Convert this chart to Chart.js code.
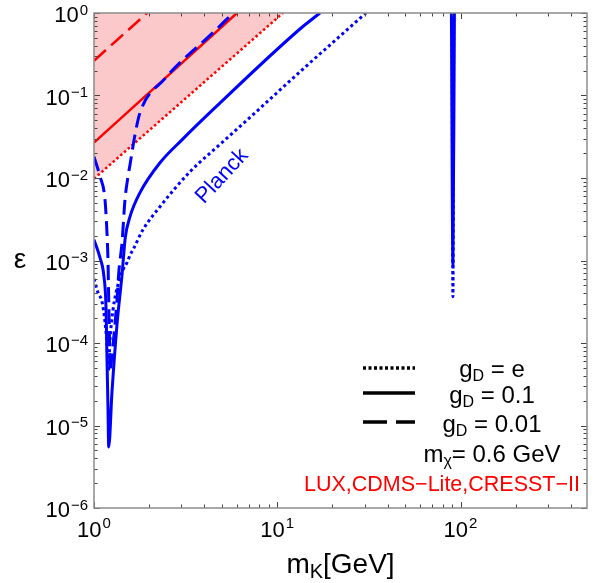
<!DOCTYPE html>
<html>
<head>
<meta charset="utf-8">
<script src="https://cdn.jsdelivr.net/npm/chart.js@4.4.0/dist/chart.umd.min.js"></script>
<style>
  html, body { margin: 0; padding: 0; background: #fff; }
  #wrap { width: 596px; height: 583px; position: relative; }
</style>
</head>
<body>
<div id="wrap"><canvas id="c"></canvas></div>
<script>
// [m_K (GeV), epsilon]
const redDotted = [[1, 0.0098], [10.74, 1]];
const redSolid = [[1, 0.0268], [6.03, 1]];
const redDashed = [[1, 0.264], [1.95, 1]];

const blueSolid = [
  [1.0, 1.79e-3], [1.078, 1.08e-3], [1.13, 6.7e-4], [1.163, 2.68e-4], [1.177, 6.6e-5],
  [1.192, 1.64e-5], [1.203, 5.5e-6], [1.254, 2.57e-5], [1.335, 1.67e-4], [1.422, 6.7e-4],
  [1.481, 1.89e-3], [1.572, 3.4e-3], [1.782, 6.64e-3], [2.291, 0.0153], [3.02, 0.029],
  [4.459, 0.0673], [13.3, 0.64], [17.1, 1.0]
];
const blueDotted = [
  [1.0, 6.0e-4], [1.052, 4.07e-4], [1.106, 3.17e-4], [1.148, 1.81e-4], [1.177, 9.5e-5],
  [1.197, 4.5e-5], [1.223, 1.1e-4], [1.27, 2.53e-4], [1.352, 5.1e-4], [1.439, 7.7e-4],
  [1.514, 9.4e-4], [1.578, 1.18e-3], [1.632, 1.35e-3], [1.85, 2.36e-3], [2.291, 4.49e-3],
  [3.34, 0.0119], [5.056, 0.0275], [7.37, 0.0585], [13.3, 0.194], [30.5, 1.0]
];
const blueDashed = [
  [1.0, 0.0181], [1.078, 0.0105], [1.148, 0.00546], [1.177, 0.00217], [1.192, 0.00102],
  [1.203, 3.35e-4], [1.215, 1.1e-4], [1.223, 4.5e-5], [1.254, 7.2e-5], [1.286, 1.26e-4],
  [1.335, 3.35e-4], [1.369, 7.7e-4], [1.422, 1.64e-3], [1.476, 5.46e-3], [1.533, 0.0104],
  [1.572, 0.0145], [1.674, 0.0335], [1.782, 0.0619], [2.439, 0.16], [2.946, 0.25],
  [4.459, 0.577], [5.733, 1.0]
];
// Z resonance spike near 91 GeV
const spikeSolid = [[89.2, 1], [90.9, 8.9e-4], [92.6, 1]];
const spikeDotted = [[90.0, 1], [90.9, 3.64e-4], [91.8, 1]];

const xMin = 1, xMax = 490, yMin = 1e-6, yMax = 1;
const xTickValues = [1, 10, 100];
const xTickExps = ['0', '1', '2'];
const yTickValues = [1, 1e-1, 1e-2, 1e-3, 1e-4, 1e-5, 1e-6];
const yTickExps = ['0', '\u22121', '\u22122', '\u22123', '\u22124', '\u22125', '\u22126'];

const legendValues = ['e', '0.1', '0.01'];
const legendDashes = [[3, 2.5], [], [24, 9]];
const massNote = '= 0.6 GeV';
const limitsNote = 'LUX,CDMS\u2212Lite,CRESST\u2212II';
const planckLabel = { text: 'Planck', m: 5.0, eps: 0.0105 };

const FONT = '"Liberation Sans", Arial, sans-serif';
const BLUE = '#0000ff', RED = '#ff0000';

const pts = arr => arr.map(([x, y]) => ({ x, y }));

function line(data, color, width, dash, extra) {
  return Object.assign({
    data: pts(data),
    borderColor: color,
    borderWidth: width,
    borderDash: dash,
    pointRadius: 0,
    fill: false,
    cubicInterpolationMode: 'monotone',
    clip: 0
  }, extra || {});
}

function powLabel(ctx, exp, x, base, supBase, align) {
  ctx.font = '22px ' + FONT;
  const w1 = ctx.measureText('10').width;
  ctx.font = '15px ' + FONT;
  const w2 = ctx.measureText(exp).width;
  const total = w1 + 1 + w2;
  const left = align === 'right' ? x - total : x - total / 2;
  ctx.textAlign = 'left';
  ctx.font = '22px ' + FONT;
  ctx.fillText('10', left, base);
  ctx.font = '15px ' + FONT;
  ctx.fillText(exp, left + w1 + 1, supBase);
}

// text with subscript, pieces: [text, size, dy]
function richText(ctx, pieces, x, base, align) {
  let total = 0;
  for (const p of pieces) { ctx.font = p[1] + 'px ' + FONT; total += ctx.measureText(p[0]).width; }
  let cx = align === 'center' ? x - total / 2 : align === 'right' ? x - total : x;
  ctx.textAlign = 'left';
  for (const p of pieces) {
    ctx.font = p[1] + 'px ' + FONT;
    ctx.fillText(p[0], cx, base + (p[2] || 0));
    cx += ctx.measureText(p[0]).width;
  }
}

const framePlugin = {
  id: 'frame',
  afterDraw(chart) {
    const { ctx, chartArea: a } = chart;
    const xs = chart.scales.x, ys = chart.scales.y;
    ctx.save();

    // ticks on all four sides
    ctx.strokeStyle = '#444';
    ctx.lineWidth = 1;
    ctx.beginPath();
    for (let d = 1; d <= 100; d *= 10) {
      for (let k = 1; k <= 9; k++) {
        const v = d * k;
        if (v > xMax) break;
        const px = Math.round(xs.getPixelForValue(v)) + 0.5;
        const len = k === 1 ? 6 : 3.5;
        ctx.moveTo(px, a.bottom); ctx.lineTo(px, a.bottom - len);
        ctx.moveTo(px, a.top); ctx.lineTo(px, a.top + len);
      }
    }
    for (let e = -6; e <= 0; e++) {
      for (let k = 1; k <= 9; k++) {
        const v = k * Math.pow(10, e);
        if (v > yMax * 1.0001) break;
        const py = Math.round(ys.getPixelForValue(v)) + 0.5;
        const len = k === 1 ? 6 : 3.5;
        ctx.moveTo(a.left, py); ctx.lineTo(a.left + len, py);
        ctx.moveTo(a.right, py); ctx.lineTo(a.right - len, py);
      }
    }
    ctx.stroke();

    // frame
    ctx.strokeStyle = '#8c8c8c';
    ctx.lineWidth = 1.5;
    ctx.strokeRect(a.left, a.top, a.right - a.left, a.bottom - a.top);

    // tick labels
    ctx.fillStyle = '#000';
    ctx.textBaseline = 'alphabetic';
    xTickValues.forEach((v, i) => {
      const px = xs.getPixelForValue(v);
      powLabel(ctx, xTickExps[i], px, a.bottom + 29, a.bottom + 20, 'center');
    });
    yTickValues.forEach((v, i) => {
      const py = ys.getPixelForValue(v);
      powLabel(ctx, yTickExps[i], a.left - 6, py + 9, py + 1.5, 'right');
    });

    // axis titles
    richText(ctx, [['m', 28], ['K', 20, 5], ['[GeV]', 28]], (a.left + a.right) / 2, 573, 'center');
    ctx.font = '28px ' + FONT;
    ctx.textAlign = 'center';
    ctx.fillText('\u03b5', 20, (a.top + a.bottom) / 2 + 7);

    // Planck label
    ctx.save();
    ctx.translate(xs.getPixelForValue(planckLabel.m), ys.getPixelForValue(planckLabel.eps));
    ctx.rotate(-47 * Math.PI / 180);
    ctx.fillStyle = BLUE;
    ctx.font = '22px ' + FONT;
    ctx.textAlign = 'center';
    ctx.textBaseline = 'middle';
    ctx.fillText(planckLabel.text, 0, 0);
    ctx.restore();

    // legend
    const rows = [368, 393, 422];
    const bases = [377, 403, 432];
    ctx.strokeStyle = '#000';
    ctx.lineWidth = 3.5;
    rows.forEach((ry, i) => {
      ctx.setLineDash(legendDashes[i]);
      ctx.beginPath();
      ctx.moveTo(363, ry); ctx.lineTo(415, ry);
      ctx.stroke();
      ctx.setLineDash([]);
      ctx.fillStyle = '#000';
      richText(ctx, [['g', 24], ['D', 16, 4], [' = ' + legendValues[i], 24]], 492, bases[i], 'center');
    });
    richText(ctx, [['m', 24], ['\u03c7', 16, 4], [massNote, 24]], 492, 462, 'center');
    ctx.fillStyle = RED;
    ctx.font = '21.5px ' + FONT;
    ctx.textAlign = 'right';
    ctx.fillText(limitsNote, 580, 491);

    ctx.restore();
  }
};

new Chart(document.getElementById('c'), {
  type: 'line',
  data: {
    datasets: [
      line(spikeDotted, BLUE, 3, [3, 3]),
      line(spikeSolid, BLUE, 3, []),
      line(blueSolid, BLUE, 3, []),
      line(blueDashed, BLUE, 3, [15, 7]),
      line(blueDotted, BLUE, 3, [3, 3]),
      line(redSolid, RED, 2.5, []),
      line(redDashed, RED, 2.5, [16, 7]),
      line(redDotted, RED, 2.5, [2.5, 2.5], { fill: 'end', backgroundColor: '#fbc9c9', order: 10 })
    ]
  },
  options: {
    responsive: true,
    maintainAspectRatio: false,
    animation: false,
    layout: { padding: { left: 94, top: 13, right: 9, bottom: 75 } },
    scales: {
      x: { type: 'logarithmic', min: xMin, max: xMax, display: false },
      y: { type: 'logarithmic', min: yMin, max: yMax, display: false }
    },
    plugins: { legend: { display: false }, tooltip: { enabled: false } }
  },
  plugins: [framePlugin]
});
</script>
</body>
</html>
